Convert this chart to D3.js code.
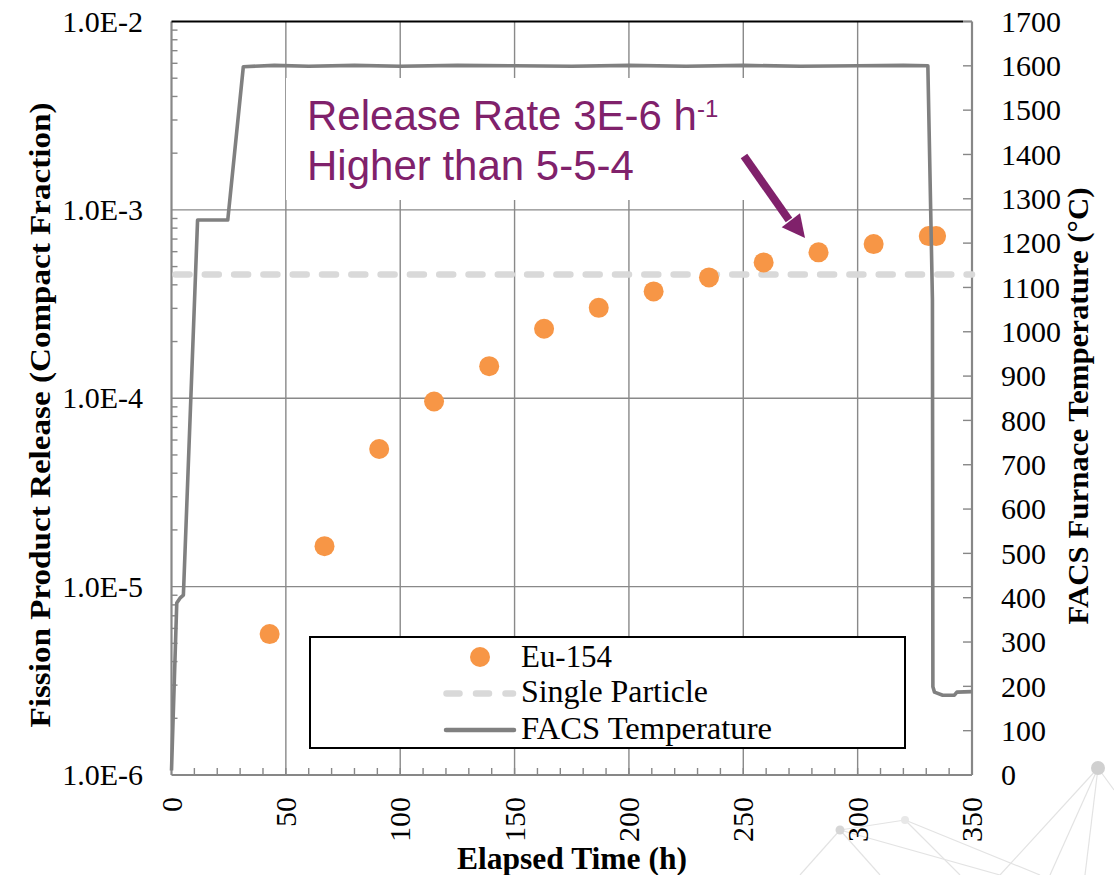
<!DOCTYPE html>
<html><head><meta charset="utf-8">
<script src="https://cdn.jsdelivr.net/npm/d3@7/dist/d3.min.js"></script>
<style>body{margin:0;background:#fff;}svg{display:block;}</style>
</head><body>
<svg id="c" width="1114" height="875"></svg>
<script>
// ---- data ----
const euTime = [42.9, 66.9, 90.8, 114.8, 138.9, 162.9, 186.8, 210.8, 235.0, 258.9, 282.9, 307.0, 331.1, 334.3];
const euRelease = [5.60e-6, 1.64e-5, 5.38e-5, 9.61e-5, 1.48e-4, 2.34e-4, 3.02e-4, 3.69e-4, 4.38e-4, 5.26e-4, 5.95e-4, 6.58e-4, 7.26e-4, 7.26e-4];
const singleParticle = 4.54e-4;
const tempTime = [0, 2.3, 3.7, 5.2, 11.4, 24.6, 31.4, 45, 60, 80, 100, 125, 150, 175, 200, 225, 250, 275, 300, 320, 330.7, 332.7, 332.9, 333.6, 337.2, 342.3, 343.4, 350];
const tempValue = [10, 388, 399, 406, 1252, 1252, 1598, 1601, 1599, 1601, 1599, 1601, 1600, 1599, 1601, 1599, 1601, 1599, 1600, 1601, 1600, 1072, 199, 187, 180, 180, 187, 188];
const xTicks = [0, 50, 100, 150, 200, 250, 300, 350];
const yLeftTicks = [1e-6, 1e-5, 1e-4, 1e-3, 1e-2];
const yLeftLabels = ["1.0E-6", "1.0E-5", "1.0E-4", "1.0E-3", "1.0E-2"];
const yRightTicks = d3.range(0, 1701, 100);
const legendLabels = ["Eu-154", "Single Particle", "FACS Temperature"];

// ---- layout ----
const L = 171.5, R = 972, T = 21.5, B = 775;
const svg = d3.select("#c");
const x = d3.scaleLinear().domain([0, 350]).range([L, R]);
const y = d3.scaleLog().domain([1e-6, 1e-2]).range([B, T]);
const y2 = d3.scaleLinear().domain([0, 1700]).range([B, T]);
const gridC = "#898989", axC = "#878787";
const serif = "'Liberation Serif','Times New Roman',serif";
const sans = "'Liberation Sans',Arial,sans-serif";
const purple = "#80216b";

// background decoration (slide template)
const deco = svg.append("g").attr("stroke", "#e3e3e3").attr("stroke-width", 1.2).attr("fill", "none");
[[1098,768,1000,875],[1098,768,1085,875],[1098,768,1114,790],[1098,768,1050,875],
 [840,830,1000,875],[840,830,800,875],[840,830,880,875],[905,820,1040,875],[905,820,960,875],[840,830,905,820]]
 .forEach(s => deco.append("line").attr("x1", s[0]).attr("y1", s[1]).attr("x2", s[2]).attr("y2", s[3]));
svg.append("circle").attr("cx", 1098).attr("cy", 768).attr("r", 7).attr("fill", "#d0d0d0");
svg.append("circle").attr("cx", 840).attr("cy", 830).attr("r", 4.5).attr("fill", "#d6d6d6");
svg.append("circle").attr("cx", 905).attr("cy", 820).attr("r", 4).attr("fill", "#e8e8e8");

// grid
const g = svg.append("g");
g.selectAll(".vg").data(xTicks.slice(1, -1)).enter().append("line")
  .attr("x1", d => x(d)).attr("x2", d => x(d)).attr("y1", T).attr("y2", B)
  .attr("stroke", gridC).attr("stroke-width", 1.4);
g.selectAll(".hg").data(yLeftTicks.slice(1, -1)).enter().append("line")
  .attr("x1", L).attr("x2", R).attr("y1", d => y(d)).attr("y2", d => y(d))
  .attr("stroke", gridC).attr("stroke-width", 1.4);

// annotation box background
svg.append("rect").attr("x", 286).attr("y", 78).attr("width", 466).attr("height", 122).attr("fill", "#fff");

// minor ticks left (log)
const minors = [];
for (let e = -6; e < -2; e++) for (let m = 2; m <= 9; m++) minors.push(m * Math.pow(10, e));
svg.selectAll(".lm").data(minors).enter().append("line")
  .attr("x1", L).attr("x2", L + 6).attr("y1", d => y(d)).attr("y2", d => y(d))
  .attr("stroke", axC).attr("stroke-width", 1.4);
// bottom ticks every 10
svg.selectAll(".bm").data(d3.range(10, 350, 10)).enter().append("line")
  .attr("x1", d => x(d)).attr("x2", d => x(d)).attr("y1", B).attr("y2", B - 7)
  .attr("stroke", axC).attr("stroke-width", 1.4);
// right ticks
svg.selectAll(".rm").data(yRightTicks).enter().append("line")
  .attr("x1", R).attr("x2", R - 9).attr("y1", d => y2(d)).attr("y2", d => y2(d))
  .attr("stroke", axC).attr("stroke-width", 1.4);

// axes lines
svg.append("line").attr("x1", L).attr("x2", L).attr("y1", T).attr("y2", B).attr("stroke", axC).attr("stroke-width", 2.2);
svg.append("line").attr("x1", L).attr("x2", R).attr("y1", B).attr("y2", B).attr("stroke", axC).attr("stroke-width", 2.2);
svg.append("line").attr("x1", R).attr("x2", R).attr("y1", T).attr("y2", B).attr("stroke", axC).attr("stroke-width", 2.2);
svg.append("line").attr("x1", L).attr("x2", 963).attr("y1", T).attr("y2", T).attr("stroke", "#000").attr("stroke-width", 2);
svg.append("line").attr("x1", 963).attr("x2", R).attr("y1", T).attr("y2", T).attr("stroke", axC).attr("stroke-width", 2);

// single particle dashed
svg.append("line").attr("x1", L + 4).attr("x2", R).attr("y1", y(singleParticle)).attr("y2", y(singleParticle))
  .attr("stroke", "#d9d9d9").attr("stroke-width", 6.5).attr("stroke-linecap", "round")
  .attr("stroke-dasharray", "14,15.3");

// Eu points
svg.selectAll(".pt").data(euTime).enter().append("circle")
  .attr("cx", d => x(d)).attr("cy", (d, i) => y(euRelease[i])).attr("r", 10).attr("fill", "#f79646");

// temperature
const line = d3.line().x(d => x(d[0])).y(d => y2(d[1]));
svg.append("path").datum(tempTime.map((t, i) => [t, tempValue[i]])).attr("d", line)
  .attr("fill", "none").attr("stroke", "#808080").attr("stroke-width", 3.6).attr("stroke-linejoin", "round");

// tick labels
svg.selectAll(".ll").data(yLeftTicks).enter().append("text")
  .attr("x", 143).attr("y", d => y(d)).attr("dy", "0.34em").attr("text-anchor", "end")
  .attr("font-family", serif).attr("font-size", 30).text((d, i) => yLeftLabels[i]);
svg.selectAll(".rl").data(yRightTicks).enter().append("text")
  .attr("x", 1001).attr("y", d => y2(d)).attr("dy", "0.34em").attr("text-anchor", "start")
  .attr("font-family", serif).attr("font-size", 30).text(d => d);
svg.selectAll(".bl").data(xTicks).enter().append("text")
  .attr("transform", d => `translate(${x(d)},797) rotate(-90)`).attr("dy", "0.34em").attr("text-anchor", "end")
  .attr("font-family", serif).attr("font-size", 30).text(d => d);

// axis titles
svg.append("text").attr("x", 572).attr("y", 869).attr("text-anchor", "middle")
  .attr("font-family", serif).attr("font-weight", "bold").attr("font-size", 32)
  .attr("textLength", 230).attr("lengthAdjust", "spacingAndGlyphs").text("Elapsed Time (h)");
svg.append("text").attr("transform", "translate(50,415) rotate(-90)").attr("text-anchor", "middle")
  .attr("font-family", serif).attr("font-weight", "bold").attr("font-size", 30)
  .attr("textLength", 625).attr("lengthAdjust", "spacingAndGlyphs").text("Fission Product Release (Compact Fraction)");
svg.append("text").attr("transform", "translate(1088,406) rotate(-90)").attr("text-anchor", "middle")
  .attr("font-family", serif).attr("font-weight", "bold").attr("font-size", 30)
  .attr("textLength", 437).attr("lengthAdjust", "spacingAndGlyphs").text("FACS Furnace Temperature (°C)");

// annotation
const ann = svg.append("text").attr("font-family", sans).attr("font-size", 42).attr("fill", purple);
ann.append("tspan").attr("x", 307).attr("y", 129.5).text("Release Rate 3E-6 h");
ann.append("tspan").attr("font-size", 24).attr("dy", -13).text("-1");
svg.append("text").attr("font-family", sans).attr("font-size", 42).attr("fill", purple)
  .attr("x", 307).attr("y", 180).text("Higher than 5-5-4");
// arrow
svg.append("line").attr("x1", 744).attr("y1", 156).attr("x2", 789).attr("y2", 220)
  .attr("stroke", purple).attr("stroke-width", 8);
svg.append("path").attr("d", "M805,238 L781.7,227.3 L800,213.3 Z").attr("fill", purple);

// legend
svg.append("rect").attr("x", 310).attr("y", 637).attr("width", 595).attr("height", 111)
  .attr("fill", "#fff").attr("stroke", "#000").attr("stroke-width", 2);
svg.append("circle").attr("cx", 480).attr("cy", 657).attr("r", 10).attr("fill", "#f79646");
svg.append("line").attr("x1", 446.5).attr("x2", 513).attr("y1", 693.5).attr("y2", 693.5)
  .attr("stroke", "#d9d9d9").attr("stroke-width", 6.5).attr("stroke-linecap", "round").attr("stroke-dasharray", "13,16.5");
svg.append("line").attr("x1", 446).attr("x2", 514).attr("y1", 730).attr("y2", 730)
  .attr("stroke", "#808080").attr("stroke-width", 4.5).attr("stroke-linecap", "round");
svg.selectAll(".lg").data(legendLabels).enter().append("text")
  .attr("x", 521).attr("y", (d, i) => [667, 702, 739][i])
  .attr("textLength", (d, i) => [91, 187, 251][i]).attr("lengthAdjust", "spacingAndGlyphs")
  .attr("font-family", serif).attr("font-size", 31).text(d => d);
</script>
</body></html>
